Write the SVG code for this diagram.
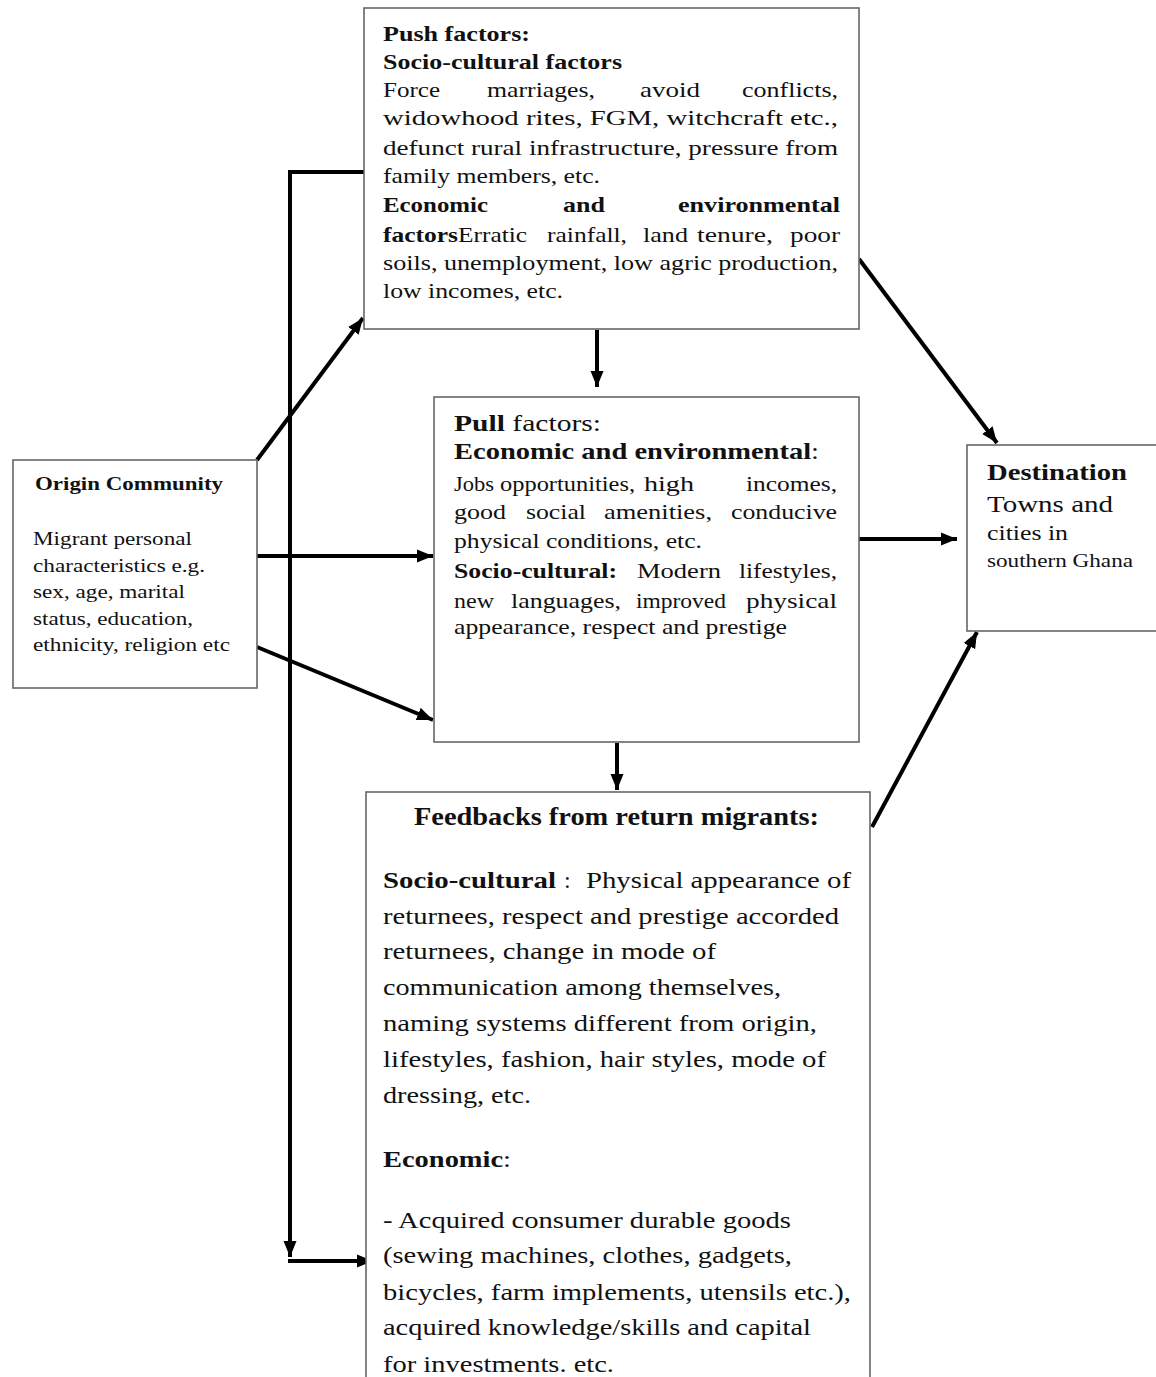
<svg xmlns="http://www.w3.org/2000/svg" width="1156" height="1377" viewBox="0 0 1156 1377">
<style>
.box{fill:#fff;stroke:#666;stroke-width:1.6}
.t{font-family:"Liberation Serif","Times New Roman",serif;fill:#111}
.b{font-weight:bold}
.c{fill:none;stroke:#000;stroke-width:4}
.s22{font-size:22px}
.s24{font-size:24px}
.s18{font-size:18px}
</style>
<defs>
<marker id="ah" markerUnits="userSpaceOnUse" markerWidth="17" markerHeight="14" refX="16" refY="7" orient="auto">
<path d="M0,0.5 L16,7 L0,13.5 z" fill="#000"/>
</marker>
</defs>
<rect width="1156" height="1377" fill="#fff"/>

<g id="connectors">
<line class="c" x1="257" y1="460" x2="363" y2="318" marker-end="url(#ah)"/>
<line class="c" x1="257" y1="556" x2="433" y2="556" marker-end="url(#ah)"/>
<line class="c" x1="257" y1="647" x2="433" y2="720" marker-end="url(#ah)"/>
<line class="c" x1="597" y1="330" x2="597" y2="387" marker-end="url(#ah)"/>
<line class="c" x1="617" y1="743" x2="617" y2="790" marker-end="url(#ah)"/>
<line class="c" x1="859" y1="259" x2="997" y2="443" marker-end="url(#ah)"/>
<line class="c" x1="859" y1="539" x2="957" y2="539" marker-end="url(#ah)"/>
<line class="c" x1="872" y1="827" x2="977" y2="632" marker-end="url(#ah)"/>
<path class="c" d="M364,172 H290 V1257" marker-end="url(#ah)"/>
<line class="c" x1="288" y1="1261" x2="373" y2="1261" marker-end="url(#ah)"/>
</g>

<g id="push">
<rect class="box" x="364" y="8" width="495" height="321"/>
<text class="t s22 b" x="383" y="41" textLength="147" lengthAdjust="spacingAndGlyphs">Push factors:</text>
<text class="t s22 b" x="383" y="69" textLength="239" lengthAdjust="spacingAndGlyphs">Socio-cultural factors</text>
<text class="t s22" y="97"><tspan x="383" textLength="57" lengthAdjust="spacingAndGlyphs">Force</tspan><tspan x="487" textLength="108" lengthAdjust="spacingAndGlyphs">marriages,</tspan><tspan x="640" textLength="60" lengthAdjust="spacingAndGlyphs">avoid</tspan><tspan x="742" textLength="96" lengthAdjust="spacingAndGlyphs">conflicts,</tspan></text>
<text class="t s22" x="383" y="125" textLength="455" lengthAdjust="spacingAndGlyphs">widowhood rites, FGM, witchcraft etc.,</text>
<text class="t s22" x="383" y="155" textLength="455" lengthAdjust="spacingAndGlyphs">defunct rural infrastructure, pressure from</text>
<text class="t s22" x="383" y="183" textLength="217" lengthAdjust="spacingAndGlyphs">family members, etc.</text>
<text class="t s22 b" y="212"><tspan x="383" textLength="105" lengthAdjust="spacingAndGlyphs">Economic</tspan><tspan x="563" textLength="42" lengthAdjust="spacingAndGlyphs">and</tspan><tspan x="678" textLength="162" lengthAdjust="spacingAndGlyphs">environmental</tspan></text>
<text class="t s22" y="242"><tspan x="383" class="b" textLength="75" lengthAdjust="spacingAndGlyphs">factors</tspan><tspan x="458" textLength="69" lengthAdjust="spacingAndGlyphs">Erratic</tspan><tspan x="547" textLength="80" lengthAdjust="spacingAndGlyphs">rainfall,</tspan><tspan x="643" textLength="45" lengthAdjust="spacingAndGlyphs">land</tspan><tspan x="697" textLength="76" lengthAdjust="spacingAndGlyphs">tenure,</tspan><tspan x="790" textLength="50" lengthAdjust="spacingAndGlyphs">poor</tspan></text>
<text class="t s22" x="383" y="270" textLength="455" lengthAdjust="spacingAndGlyphs">soils, unemployment, low agric production,</text>
<text class="t s22" x="383" y="298" textLength="180" lengthAdjust="spacingAndGlyphs">low incomes, etc.</text>
</g>

<g id="pull">
<rect class="box" x="434" y="397" width="425" height="345"/>
<text class="t s24" x="454" y="431" textLength="147" lengthAdjust="spacingAndGlyphs"><tspan class="b">Pull</tspan> factors:</text>
<text class="t s24" x="454" y="459" textLength="365" lengthAdjust="spacingAndGlyphs"><tspan class="b">Economic and environmental</tspan>:</text>
<text class="t s22" y="491"><tspan x="454" textLength="40" lengthAdjust="spacingAndGlyphs">Jobs</tspan><tspan x="500" textLength="135" lengthAdjust="spacingAndGlyphs">opportunities,</tspan><tspan x="644" textLength="50" lengthAdjust="spacingAndGlyphs">high</tspan><tspan x="746" textLength="91" lengthAdjust="spacingAndGlyphs">incomes,</tspan></text>
<text class="t s22" y="519"><tspan x="454" textLength="52" lengthAdjust="spacingAndGlyphs">good</tspan><tspan x="526" textLength="60" lengthAdjust="spacingAndGlyphs">social</tspan><tspan x="604" textLength="108" lengthAdjust="spacingAndGlyphs">amenities,</tspan><tspan x="731" textLength="106" lengthAdjust="spacingAndGlyphs">conducive</tspan></text>
<text class="t s22" x="454" y="548" textLength="248" lengthAdjust="spacingAndGlyphs">physical conditions, etc.</text>
<text class="t s22" y="578"><tspan x="454" class="b" textLength="163" lengthAdjust="spacingAndGlyphs">Socio-cultural:</tspan><tspan x="637" textLength="84" lengthAdjust="spacingAndGlyphs">Modern</tspan><tspan x="739" textLength="98" lengthAdjust="spacingAndGlyphs">lifestyles,</tspan></text>
<text class="t s22" y="608"><tspan x="454" textLength="40" lengthAdjust="spacingAndGlyphs">new</tspan><tspan x="511" textLength="110" lengthAdjust="spacingAndGlyphs">languages,</tspan><tspan x="636" textLength="90" lengthAdjust="spacingAndGlyphs">improved</tspan><tspan x="746" textLength="91" lengthAdjust="spacingAndGlyphs">physical</tspan></text>
<text class="t s22" x="454" y="634" textLength="333" lengthAdjust="spacingAndGlyphs">appearance, respect and prestige</text>
</g>

<g id="origin">
<rect class="box" x="13" y="460" width="244" height="228"/>
<text class="t s18 b" x="35" y="490" textLength="188" lengthAdjust="spacingAndGlyphs">Origin Community</text>
<text class="t s18" x="33" y="545" textLength="159" lengthAdjust="spacingAndGlyphs">Migrant personal</text>
<text class="t s18" x="33" y="572" textLength="172" lengthAdjust="spacingAndGlyphs">characteristics e.g.</text>
<text class="t s18" x="33" y="598" textLength="152" lengthAdjust="spacingAndGlyphs">sex, age, marital</text>
<text class="t s18" x="33" y="625" textLength="160" lengthAdjust="spacingAndGlyphs">status, education,</text>
<text class="t s18" x="33" y="651" textLength="197" lengthAdjust="spacingAndGlyphs">ethnicity, religion etc</text>
</g>

<g id="destination">
<rect class="box" x="967" y="445" width="195" height="186"/>
<text class="t s24 b" x="987" y="480" textLength="140" lengthAdjust="spacingAndGlyphs">Destination</text>
<text class="t" font-size="24" x="987" y="512" textLength="126" lengthAdjust="spacingAndGlyphs">Towns and</text>
<text class="t" font-size="20" x="987" y="540" textLength="81" lengthAdjust="spacingAndGlyphs">cities in</text>
<text class="t s18" x="987" y="567" textLength="146" lengthAdjust="spacingAndGlyphs">southern Ghana</text>
</g>

<g id="feedback">
<rect class="box" x="366" y="792" width="504" height="600"/>
<text class="t b" font-size="25" x="414" y="825" textLength="405" lengthAdjust="spacingAndGlyphs">Feedbacks from return migrants:</text>
<text class="t s24" y="888"><tspan x="383" class="b" textLength="173" lengthAdjust="spacingAndGlyphs">Socio-cultural</tspan><tspan x="564">:</tspan><tspan x="586" textLength="265" lengthAdjust="spacingAndGlyphs">Physical appearance of</tspan></text>
<text class="t s24" x="383" y="924" textLength="456" lengthAdjust="spacingAndGlyphs">returnees, respect and prestige accorded</text>
<text class="t s24" x="383" y="959" textLength="333" lengthAdjust="spacingAndGlyphs">returnees, change in mode of</text>
<text class="t s24" x="383" y="995" textLength="398" lengthAdjust="spacingAndGlyphs">communication among themselves,</text>
<text class="t s24" x="383" y="1031" textLength="434" lengthAdjust="spacingAndGlyphs">naming systems different from origin,</text>
<text class="t s24" x="383" y="1067" textLength="443" lengthAdjust="spacingAndGlyphs">lifestyles, fashion, hair styles, mode of</text>
<text class="t s24" x="383" y="1103" textLength="148" lengthAdjust="spacingAndGlyphs">dressing, etc.</text>
<text class="t s24" x="383" y="1167" textLength="128" lengthAdjust="spacingAndGlyphs"><tspan class="b">Economic</tspan>:</text>
<text class="t s24" x="383" y="1228" textLength="408" lengthAdjust="spacingAndGlyphs">- Acquired consumer durable goods</text>
<text class="t s24" x="383" y="1263" textLength="409" lengthAdjust="spacingAndGlyphs">(sewing machines, clothes, gadgets,</text>
<text class="t s24" x="383" y="1300" textLength="468" lengthAdjust="spacingAndGlyphs">bicycles, farm implements, utensils etc.),</text>
<text class="t s24" x="383" y="1335" textLength="428" lengthAdjust="spacingAndGlyphs">acquired knowledge/skills and capital</text>
<text class="t s24" x="383" y="1372" textLength="231" lengthAdjust="spacingAndGlyphs">for investments. etc.</text>
</g>
</svg>
